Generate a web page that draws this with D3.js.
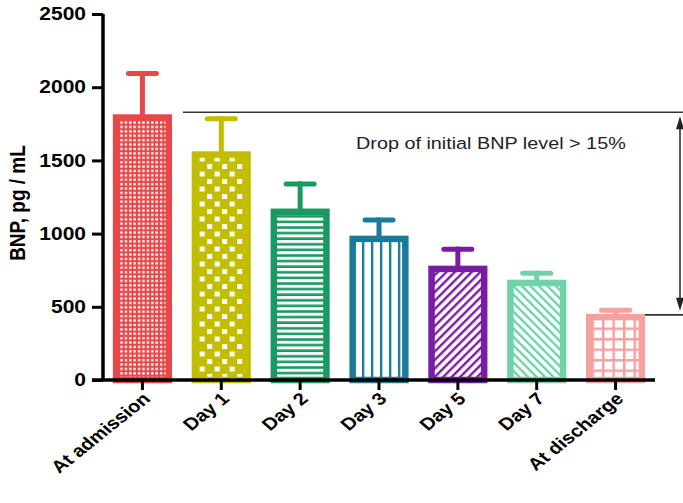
<!DOCTYPE html>
<html lang="en">
<head>
<meta charset="UTF-8">
<title>BNP</title>
<script src="https://cdn.jsdelivr.net/npm/d3@7"></script>
<style>
  body { margin: 0; background: #fff; }
  text { font-family: "Liberation Sans", Arial, Helvetica, sans-serif; }
</style>
</head>
<body>
<svg id="chart" width="683" height="503"></svg>
<script>
// data
const categories = ["At admission", "Day 1", "Day 2", "Day 3", "Day 5", "Day 7", "At discharge"];
const means = [1815, 1562, 1171, 986, 781, 685, 452];
const upper = [2110, 1801, 1356, 1110, 911, 747, 493];
const colors = ["#e8474a", "#c2bd00", "#1a9a62", "#1a7a98", "#7a1ca3", "#70d3a8", "#f6a0a0"];
const yTicks = [0, 500, 1000, 1500, 2000, 2500];
const note = "Drop of initial BNP level > 15%";

const svg = d3.select("#chart");
const defs = svg.append("defs");

// the source figure is a bit wider than tall, text looks stretched
const stretch = 1.2;

const x = d3.scaleBand().domain(categories).range([103, 655]).paddingInner(0.25).paddingOuter(0.125);
const y = d3.scaleLinear().domain([0, 2500]).range([380, 14]);

const sw = 6.5; // bar border

// patterns, one per bar
function makePattern(i, kind) {
  const c = colors[i];
  const id = "pat" + i;
  const px = x(categories[i]) + sw;
  let p;
  if (kind === "dots") {
    p = defs.append("pattern").attr("id", id).attr("patternUnits", "userSpaceOnUse")
      .attr("x", px).attr("y", 380).attr("width", 4.4).attr("height", 4.4);
    p.append("rect").attr("width", 4.4).attr("height", 4.4).attr("fill", c);
    p.append("rect").attr("x", 1).attr("y", 1).attr("width", 2.3).attr("height", 2.3).attr("fill", "#fff");
  } else if (kind === "checker") {
    p = defs.append("pattern").attr("id", id).attr("patternUnits", "userSpaceOnUse")
      .attr("x", px).attr("y", 380).attr("width", 15).attr("height", 15);
    p.append("rect").attr("width", 15).attr("height", 15).attr("fill", c);
    p.append("rect").attr("x", 1.5).attr("y", 1.5).attr("width", 5).attr("height", 5).attr("fill", "#fff");
    p.append("rect").attr("x", 9).attr("y", 9).attr("width", 5).attr("height", 5).attr("fill", "#fff");
  } else if (kind === "hlines") {
    p = defs.append("pattern").attr("id", id).attr("patternUnits", "userSpaceOnUse")
      .attr("x", px).attr("y", 380).attr("width", 10).attr("height", 5.6);
    p.append("rect").attr("width", 10).attr("height", 5.6).attr("fill", "#fff");
    p.append("rect").attr("y", 3).attr("width", 10).attr("height", 2.6).attr("fill", c);
  } else if (kind === "vlines") {
    p = defs.append("pattern").attr("id", id).attr("patternUnits", "userSpaceOnUse")
      .attr("x", px + 3).attr("y", 0).attr("width", 9).attr("height", 10);
    p.append("rect").attr("width", 9).attr("height", 10).attr("fill", "#fff");
    p.append("rect").attr("x", 3).attr("width", 2.4).attr("height", 10).attr("fill", c);
  } else if (kind === "diagUp" || kind === "diagDown") {
    p = defs.append("pattern").attr("id", id).attr("patternUnits", "userSpaceOnUse")
      .attr("x", px).attr("y", 380).attr("width", 6).attr("height", 6)
      .attr("patternTransform", kind === "diagUp" ? "rotate(45)" : "rotate(-45)");
    p.append("rect").attr("width", 6).attr("height", 6).attr("fill", "#fff");
    p.append("rect").attr("width", 2.4).attr("height", 6).attr("fill", c);
  } else if (kind === "grid") {
    p = defs.append("pattern").attr("id", id).attr("patternUnits", "userSpaceOnUse")
      .attr("x", px - 1).attr("y", 380).attr("width", 10.5).attr("height", 10.5);
    p.append("rect").attr("width", 10.5).attr("height", 10.5).attr("fill", c);
    p.append("rect").attr("x", 2.5).attr("y", 2.5).attr("width", 8).attr("height", 8).attr("fill", "#fff");
  }
  return "url(#" + id + ")";
}
const kinds = ["dots", "checker", "hlines", "vlines", "diagUp", "diagDown", "grid"];
const fills = kinds.map((k, i) => makePattern(i, k));

// error bars
const capW = 28;
const eb = svg.append("g");
categories.forEach((c, i) => {
  const cx = x(c) + x.bandwidth() / 2;
  eb.append("line").attr("x1", cx).attr("x2", cx).attr("y1", y(means[i]) + 2).attr("y2", y(upper[i]))
    .attr("stroke", colors[i]).attr("stroke-width", 5);
  eb.append("line").attr("x1", cx - capW / 2).attr("x2", cx + capW / 2)
    .attr("y1", y(upper[i]) + 2.5).attr("y2", y(upper[i]) + 2.5)
    .attr("stroke", colors[i]).attr("stroke-width", 5).attr("stroke-linecap", "round");
});

// bars
svg.append("g").selectAll("rect").data(categories).join("rect")
  .attr("x", d => x(d) + sw / 2)
  .attr("y", (d, i) => y(means[i]) + sw / 2)
  .attr("width", x.bandwidth() - sw)
  .attr("height", (d, i) => y(0) - y(means[i]) - sw / 2)
  .attr("fill", (d, i) => fills[i])
  .attr("stroke", (d, i) => colors[i])
  .attr("stroke-width", sw);

// axes
const yAxis = svg.append("g").attr("transform", "translate(103,0)")
  .call(d3.axisLeft(y).tickValues(yTicks).tickSize(11).tickPadding(6).tickFormat(d3.format("d")));
yAxis.select(".domain").attr("d", "M0,14V380").attr("stroke-width", 3.5);
yAxis.selectAll(".tick line").attr("stroke-width", 3);
yAxis.selectAll(".tick text").attr("font-size", 17.5).attr("font-weight", "bold").attr("fill", "#000")
  .attr("font-family", "Liberation Sans, Arial, sans-serif")
  .attr("x", -17 / stretch)
  .attr("transform", `scale(${stretch},1)`);

const xAxis = svg.append("g").attr("transform", "translate(0,380)")
  .call(d3.axisBottom(x).tickSize(10).tickSizeOuter(0));
xAxis.select(".domain").attr("d", "M92,0H655").attr("stroke-width", 3.5);
xAxis.selectAll(".tick line").attr("stroke-width", 3);
xAxis.selectAll(".tick text")
  .attr("font-size", 17).attr("font-weight", "bold").attr("fill", "#000")
  .attr("font-family", "Liberation Sans, Arial, sans-serif")
  .attr("text-anchor", "end").attr("dy", null).attr("y", 0)
  .attr("transform", `translate(9,20) scale(${stretch},1) rotate(-44)`);

// y title
svg.append("text")
  .attr("transform", `translate(25,203) scale(${stretch},1) rotate(-90)`)
  .attr("text-anchor", "middle")
  .attr("font-size", 19).attr("font-weight", "bold")
  .text("BNP, pg / mL");

// annotation: drop from admission to discharge
const yTop = y(means[0]) - 2;
const yBot = y(means[6]) + 1;
const ann = svg.append("g").attr("stroke", "#333").attr("stroke-width", 1.6);
ann.append("line").attr("x1", 183).attr("x2", 683).attr("y1", yTop).attr("y2", yTop);
ann.append("line").attr("x1", 645).attr("x2", 683).attr("y1", yBot).attr("y2", yBot);
ann.append("line").attr("x1", 680).attr("x2", 680).attr("y1", yTop + 8).attr("y2", yBot - 8);
svg.append("path").attr("fill", "#222")
  .attr("d", `M680,${yTop + 4}L676,${yTop + 17}L684,${yTop + 17}Z M680,${yBot - 4}L676,${yBot - 17}L684,${yBot - 17}Z`);

svg.append("text")
  .attr("transform", `translate(356,149) scale(${stretch},1)`)
  .attr("font-size", 16.5).attr("fill", "#222")
  .text(note);
</script>
</body>
</html>
